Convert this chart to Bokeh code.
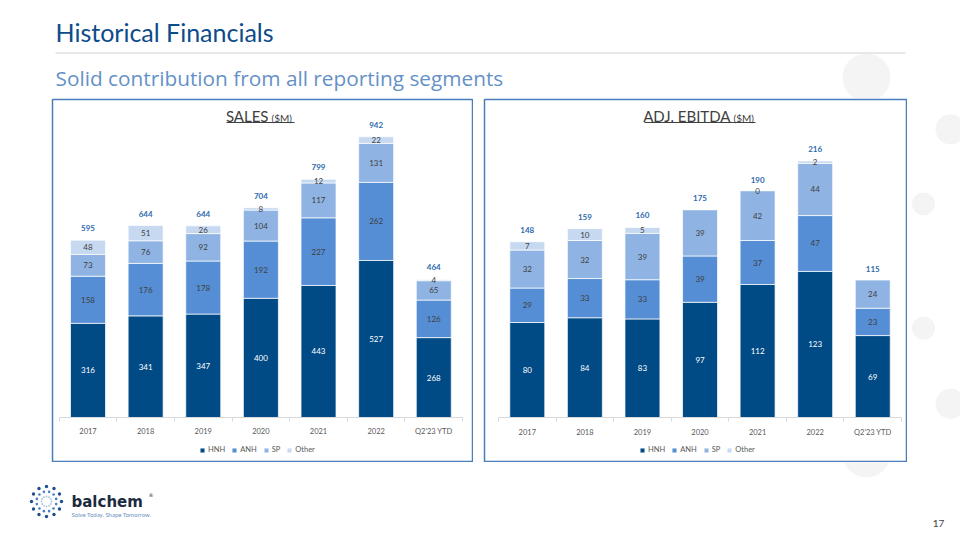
from bokeh.plotting import figure
from bokeh.models import (Range1d, LinearAxis, FixedTicker, Legend, LegendItem, Label,
                          BoxAnnotation, ColumnDataSource)
from bokeh.layouts import column, row
from bokeh.embed import file_html
from bokeh.resources import INLINE
from bokeh.core.properties import value
import math

# ---------------- data ----------------
categories = ["2017", "2018", "2019", "2020", "2021", "2022", "Q2'23 YTD"]
segments = ["HNH", "ANH", "SP", "Other"]

sales_hnh = [316, 341, 347, 400, 443, 527, 268]
sales_anh = [158, 176, 178, 192, 227, 262, 126]
sales_sp = [73, 76, 92, 104, 117, 131, 65]
sales_other = [48, 51, 26, 8, 12, 22, 4]
sales_total = [595, 644, 644, 704, 799, 942, 464]

ebitda_hnh = [80, 84, 83, 97, 112, 123, 69]
ebitda_anh = [29, 33, 33, 39, 37, 47, 23]
ebitda_sp = [32, 32, 39, 39, 42, 44, 24]
ebitda_other = [7, 10, 5, None, 0, 2, None]
ebitda_total = [148, 159, 160, 175, 190, 216, 115]

seg_colors = ["#004a86", "#558ed5", "#8fb4e3", "#c6d9f1"]

FONT = "Lato"
BOX_COLOR = "#4a7ebb"
LABEL_DARK = "#404040"
TOTAL_COLOR = "#2e6aad"
AXIS_TEXT = "#595959"
CIRCLE = "#f4f4f4"


def deco_fig(w, h, x0, x1, y0, y1):
    p = figure(width=w, height=h, x_range=Range1d(x0, x1), y_range=Range1d(y1, y0),
               x_axis_type=None, y_axis_type=None, toolbar_location=None,
               output_backend="svg", min_border=0)
    p.outline_line_color = None
    p.background_fill_color = "white"
    p.border_fill_color = "white"
    return p


def chart(series, totals, width, height, xr, yr, title_main, title_unit,
          split_x, ul_left, ul_right, legend_left):
    p = figure(width=width, height=height, x_range=Range1d(*xr), y_range=Range1d(*yr),
               x_axis_type=None, y_axis_type=None, toolbar_location=None,
               output_backend="svg", min_border=1)
    p.outline_line_color = BOX_COLOR
    p.outline_line_width = 1.5
    p.background_fill_color = "white"
    p.border_fill_color = "white"

    n = len(categories)
    xs = list(range(n))
    data = {"x": xs}
    for name, vals in zip(segments, series):
        data[name] = [0 if v is None else v for v in vals]
    src = ColumnDataSource(data)
    rs = p.vbar_stack(segments, x="x", width=0.607, source=src,
                      fill_color=seg_colors, line_color="white", line_width=0.7)

    # segment labels
    lx, ly, lt, lc = [], [], [], []
    bottoms = [0] * n
    for si, vals in enumerate(series):
        for i, v in enumerate(vals):
            if v is None:
                continue
            lx.append(i)
            ly.append(bottoms[i] + v / 2)
            lt.append(str(v))
            lc.append("white" if si == 0 else LABEL_DARK)
            bottoms[i] += v
    p.text(x=lx, y=ly, text=lt, text_color=lc, text_align="center",
           text_baseline="middle", text_font=value(FONT), text_font_size="8px")

    # totals
    p.text(x=xs, y=totals, text=[str(t) for t in totals], y_offset=-12,
           text_color=TOTAL_COLOR, text_align="center", text_baseline="middle",
           text_font=value(FONT), text_font_size="8px", text_font_style="bold")

    # category axis at y = 0
    ax = LinearAxis(ticker=FixedTicker(ticks=xs, minor_ticks=[i - 0.5 for i in range(n + 1)]),
                    fixed_location=0, bounds=(-0.5, n - 0.5))
    ax.major_label_overrides = {i: c for i, c in enumerate(categories)}
    ax.major_tick_line_color = None
    ax.major_tick_out = 0
    ax.major_tick_in = 0
    ax.minor_tick_in = 0
    ax.minor_tick_out = 4
    ax.minor_tick_line_color = "#d9d9d9"
    ax.axis_line_color = "#d9d9d9"
    ax.major_label_text_font = FONT
    ax.major_label_text_font_size = "7.5px"
    ax.major_label_text_color = AXIS_TEXT
    ax.major_label_standoff = 6
    p.add_layout(ax, "below")

    legend = Legend(items=[LegendItem(label=s, renderers=[r]) for s, r in zip(segments, rs)],
                    orientation="horizontal", location=(legend_left, 7),
                    label_text_font=FONT, label_text_font_size="7.5px",
                    label_text_color=AXIS_TEXT, glyph_width=6, glyph_height=6,
                    label_height=8, label_width=0, label_standoff=3, spacing=6,
                    padding=2, margin=0, border_line_color=None, background_fill_alpha=0)
    p.add_layout(legend)

    # title
    p.add_layout(Label(x=split_x, y=345.5, x_units="screen", y_units="screen", text=title_main,
                       text_align="right", text_baseline="middle",
                       text_font=FONT, text_font_size="15px", text_color=LABEL_DARK))
    p.add_layout(Label(x=split_x + 3, y=344, x_units="screen", y_units="screen", text=title_unit,
                       text_align="left", text_baseline="middle",
                       text_font=FONT, text_font_size="10px", text_color=LABEL_DARK))
    p.add_layout(BoxAnnotation(left=ul_left, right=ul_right, bottom=338.6, top=339.6,
                               left_units="screen", right_units="screen",
                               bottom_units="screen", top_units="screen",
                               fill_color=LABEL_DARK, fill_alpha=1, line_color=None))
    return p


sales = chart([sales_hnh, sales_anh, sales_sp, sales_other], sales_total, 422, 364,
              (-0.616, 6.672), (-147.7, 1067), "SALES", "($M)",
              216, 174, 242, 147)
ebitda = chart([ebitda_hnh, ebitda_anh, ebitda_sp, ebitda_other], ebitda_total, 424, 364,
               (-0.743, 6.586), (-37.0, 267.7), "ADJ. EBITDA", "($M)",
               246, 160, 271, 155)

# ---------------- header ----------------
header = deco_fig(960, 98, 0, 960, 0, 98)
header.circle(x=[866], y=[77], radius=24, fill_color=CIRCLE, line_color=None)
header.add_layout(Label(x=55, y=31.5, text="Historical Financials", text_font=FONT,
                        text_font_size="25px", text_color="#0d4c8b",
                        text_baseline="middle"))
header.segment(x0=[55], y0=[52.5], x1=[905], y1=[52.5], line_color="#e0e0e0", line_width=1.5)
header.add_layout(Label(x=55, y=77, text="Solid contribution from all reporting segments",
                        text_font="Open Sans", text_font_size="20.8px", text_color="#6591c7",
                        text_baseline="middle"))

# ---------------- middle row ----------------
left_pad = deco_fig(51, 364, 0, 51, 98, 462)
gap = deco_fig(10, 364, 473, 483, 98, 462)
right_pad = deco_fig(53, 364, 907, 960, 98, 462)
right_pad.circle(x=[950, 923, 923, 950], y=[128, 203, 328, 404], radius=[15, 11.5, 11.5, 15],
                 fill_color=CIRCLE, line_color=None)

# ---------------- footer ----------------
footer = deco_fig(960, 78, 0, 960, 462, 540)
footer.circle(x=[866], y=[453], radius=24, fill_color=CIRCLE, line_color=None)
cx, cy = 46, 501
rings = [(15, 3.4, "#1f4e8c"), (10, 2.6, "#4a7fc0"), (5, 1.8, "#a8c4e6")]
for k, (r, s, c) in enumerate(rings):
    ang = [2 * math.pi * j / 12 + (math.pi / 12 if k % 2 else 0) for j in range(12)]
    footer.scatter(x=[cx + r * math.cos(a) for a in ang], y=[cy + r * math.sin(a) for a in ang],
                   size=s, fill_color=c, line_color=None)
footer.add_layout(Label(x=71, y=501, text="balchem", text_font="DejaVu Sans",
                        text_font_size="15px", text_font_style="bold", text_color="#1c2b3e",
                        text_baseline="middle"))
footer.add_layout(Label(x=148, y=494, text="®", text_font="DejaVu Sans",
                        text_font_size="5px", text_color="#1c2b3e",
                        text_baseline="middle"))
footer.add_layout(Label(x=71, y=514, text="Solve Today. Shape Tomorrow.", text_font=FONT,
                        text_font_size="6px", text_color="#6b8fc0",
                        text_baseline="middle"))
footer.add_layout(Label(x=938, y=523, text="17", text_font=FONT, text_font_size="10px",
                        text_color="#404040", text_align="center", text_baseline="middle"))

layout = column(header, row(left_pad, sales, gap, ebitda, right_pad), footer)
open("out.html", "w").write(file_html(layout, INLINE))
